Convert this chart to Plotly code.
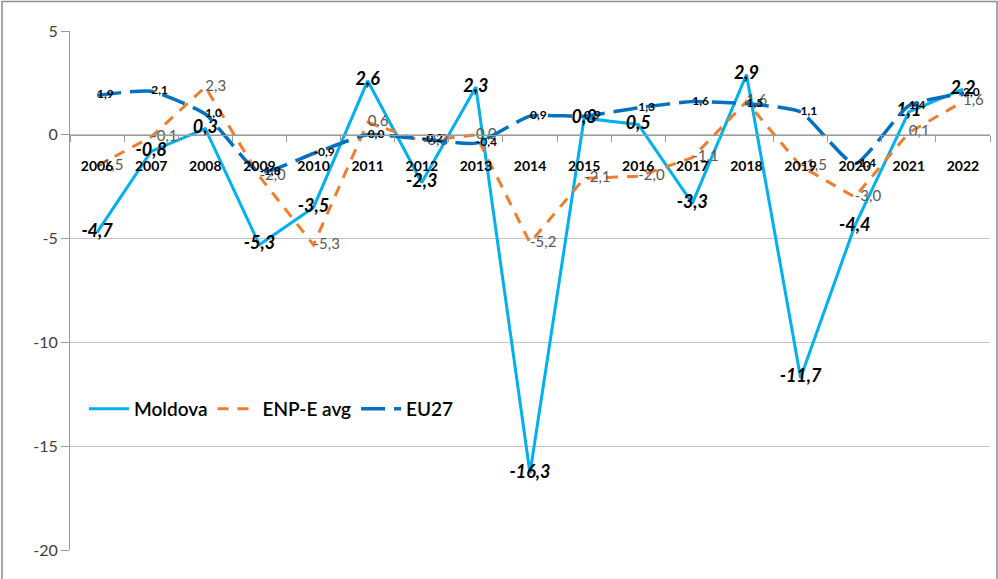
import plotly.graph_objects as go

years = [str(y) for y in range(2006, 2023)]
moldova = [-4.7, -0.8, 0.3, -5.3, -3.5, 2.6, -2.3, 2.3, -16.3, 0.8, 0.5, -3.3, 2.9, -11.7, -4.4, 1.1, 2.2]
enp_avg = [-1.5, -0.1, 2.3, -2.0, -5.3, 0.6, -0.3, 0.0, -5.2, -2.1, -2.0, -1.1, 1.6, -1.5, -3.0, 0.1, 1.6]
eu27 = [1.9, 2.1, 1.0, -1.8, -0.9, 0.0, -0.2, -0.4, 0.9, 0.9, 1.3, 1.6, 1.5, 1.1, -1.4, 1.4, 2.0]
y_ticks = [5, 0, -5, -10, -15, -20]
y_tick_text = ["5", "0", "-5", "-10", "-15", "-20"]


def fmt(vals):
    return [f"{v:.1f}".replace(".", ",") for v in vals]


FONT = "Lato"
fig = go.Figure()

fig.add_trace(go.Scatter(
    x=years, y=moldova, name="Moldova", mode="lines+text",
    line=dict(color="#00B0F0", width=3),
    text=["<b><i>" + t + "</i></b>" for t in fmt(moldova)],
    textposition="middle center",
    textfont=dict(family=FONT, size=18, color="#000000"),
    cliponaxis=False,
))
fig.add_trace(go.Scatter(
    x=years, y=enp_avg, name="ENP-E avg", mode="lines+text",
    line=dict(color="#ED7D31", width=3, dash="11px,9px"),
    text=fmt(enp_avg),
    textposition="middle right",
    textfont=dict(family=FONT, size=15, color="#595959"),
    cliponaxis=False,
))
fig.add_trace(go.Scatter(
    x=years, y=eu27, name="EU27", mode="lines+text",
    line=dict(color="#0070C0", width=3.5, dash="24px,9px", shape="spline", smoothing=0.5),
    text=["<b>" + t + "</b>" for t in fmt(eu27)],
    textposition="middle right",
    textfont=dict(family=FONT, size=12, color="#000000"),
    cliponaxis=False,
))

L, R, T, B = 70, 8, 31, 29
W, H = 998, 579
pw, ph = W - L - R, H - T - B

fig.update_layout(
    width=W, height=H,
    margin=dict(l=L, r=R, t=T, b=B, autoexpand=False),
    paper_bgcolor="white", plot_bgcolor="white",
    font=dict(family=FONT),
    showlegend=True,
    legend=dict(
        orientation="h", x=(84 - L) / pw, y=(550 - 409) / ph,
        xanchor="left", yanchor="middle",
        font=dict(family=FONT, size=19, color="#000000", weight=600),
        bgcolor="rgba(0,0,0,0)", itemwidth=40, traceorder="normal",
    ),
    xaxis=dict(
        type="category", range=[-0.5, 16.5],
        anchor="free", position=0.8,
        showline=True, linecolor="#9a9a9a", linewidth=1,
        ticks="outside", ticklen=6, tickcolor="#9a9a9a", tickson="boundaries",
        showgrid=False, zeroline=False,
        tickfont=dict(family=FONT, size=14, color="#000000"),
        ticklabelstandoff=18,
        tickprefix="<b>", ticksuffix="</b>",
    ),
    yaxis=dict(
        range=[-20, 5], tickvals=y_ticks, ticktext=y_tick_text,
        showgrid=True, gridcolor="#c4c4c4", gridwidth=1,
        showline=True, linecolor="#9a9a9a", linewidth=1,
        ticks="outside", ticklen=8, tickcolor="#9a9a9a",
        zeroline=False,
        tickfont=dict(family=FONT, size=16, color="#404040"),
    ),
    shapes=[dict(
        type="rect", xref="paper", yref="paper",
        x0=(2 - L) / pw, x1=(997 - L) / pw,
        y0=-0.2, y1=1 + (T - 1.5) / ph,
        line=dict(color="#8c8c8c", width=1.5), fillcolor="rgba(0,0,0,0)",
        layer="below",
    )],
)

fig.write_html(
    "out.html",
    config={"displayModeBar": False},
    post_script="document.body.style.margin='0';document.body.style.overflow='hidden';",
)
